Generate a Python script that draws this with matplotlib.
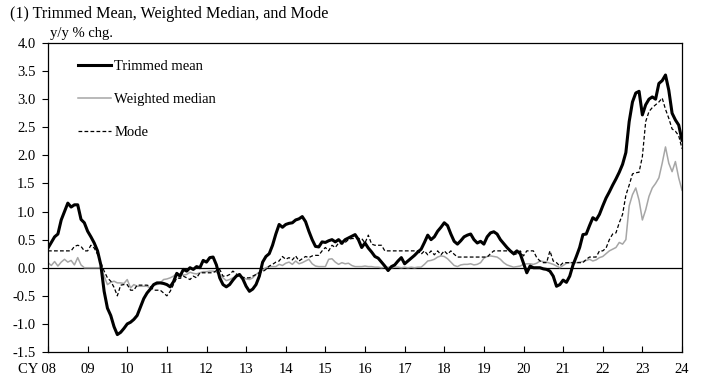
import matplotlib.pyplot as plt
from matplotlib.transforms import ScaledTranslation
import numpy as np

# monthly, Jan 2008 - Jan 2024, y/y % chg.
trimmed_mean = [
    0.35, 0.45, 0.55, 0.6, 0.85, 1.0, 1.15, 1.08, 1.12, 1.12, 0.86, 0.8,
    0.65, 0.55, 0.44, 0.3, 0.05, -0.42, -0.72, -0.85, -1.05, -1.19, -1.15, -1.08,
    -1.0, -0.97, -0.92, -0.85, -0.7, -0.55, -0.45, -0.38, -0.3, -0.27, -0.27, -0.28,
    -0.3, -0.34, -0.25, -0.1, -0.15, -0.03, -0.06, 0.0, -0.03, 0.02, 0.0, 0.13,
    0.1, 0.18, 0.19, 0.05, -0.18, -0.3, -0.34, -0.3, -0.22, -0.15, -0.12, -0.2,
    -0.33, -0.42, -0.38, -0.3, -0.15, 0.1, 0.2, 0.25, 0.4, 0.6, 0.77, 0.72,
    0.77, 0.79, 0.8, 0.85, 0.87, 0.91, 0.82, 0.65, 0.5, 0.38, 0.37, 0.46,
    0.45, 0.48, 0.5, 0.46, 0.5, 0.44, 0.5, 0.53, 0.56, 0.59, 0.5, 0.36,
    0.44, 0.35, 0.28, 0.2, 0.17, 0.1, 0.03, -0.05, 0.02, 0.05, 0.12, 0.18,
    0.07, 0.12, 0.17, 0.22, 0.28, 0.33, 0.45, 0.58, 0.5, 0.55, 0.65, 0.72,
    0.8, 0.75, 0.6, 0.47, 0.42, 0.48, 0.55, 0.58, 0.6, 0.5, 0.44, 0.47,
    0.42, 0.55, 0.62, 0.64, 0.6, 0.5, 0.43, 0.36, 0.3, 0.25, 0.3, 0.25,
    0.08, -0.09, 0.03, 0.0, 0.0, 0.0, -0.02, -0.03, -0.06, -0.15, -0.33, -0.3,
    -0.22, -0.26, -0.15, 0.05, 0.2, 0.36, 0.59, 0.6, 0.75, 0.89, 0.85, 0.95,
    1.1, 1.24, 1.35, 1.47, 1.58, 1.7, 1.84, 2.05, 2.6, 2.95, 3.11, 3.14,
    2.72, 2.9, 3.0, 3.04, 3.0, 3.28, 3.33, 3.43, 3.16, 2.75, 2.63, 2.54,
    2.27,
]
weighted_median = [
    0.09, 0.04, 0.11, 0.03, 0.1, 0.15, 0.1, 0.13, 0.05, 0.18, 0.05, 0.0,
    0.0, 0.0, 0.0, 0.0, 0.0, -0.15, -0.3, -0.26, -0.24, -0.27, -0.27, -0.28,
    -0.21, -0.36, -0.3, -0.33, -0.33, -0.33, -0.33, -0.36, -0.3, -0.3, -0.27, -0.21,
    -0.2, -0.18, -0.15, -0.1, -0.12, -0.13, -0.12, -0.08, -0.1, -0.11, -0.09, -0.07,
    -0.07, -0.06, -0.06, -0.08, -0.12, -0.18, -0.23, -0.21, -0.18, -0.15, -0.15, -0.18,
    -0.2, -0.21, -0.18, -0.12, -0.08, -0.04, 0.0, 0.02, 0.02, 0.02, 0.06, 0.04,
    0.08, 0.1, 0.06, 0.12, 0.07, 0.09, 0.12, 0.15, 0.07, 0.03, 0.02, 0.02,
    0.02, 0.15, 0.16, 0.1, 0.06, 0.09, 0.07, 0.08, 0.04, 0.02, 0.02, 0.02,
    0.03, 0.02, 0.02, 0.01, 0.01, 0.0, 0.01, 0.01, 0.0, 0.01, 0.01, 0.0,
    0.01, 0.0, 0.01, 0.0, 0.01, 0.01, 0.06, 0.12, 0.13, 0.15, 0.19, 0.21,
    0.2, 0.16, 0.1, 0.04, 0.02, 0.05, 0.06, 0.06, 0.07, 0.05, 0.06, 0.09,
    0.17, 0.2, 0.21, 0.2, 0.19, 0.15, 0.09, 0.05, 0.03, 0.01, 0.02, 0.03,
    0.06, 0.07, 0.07, 0.06, 0.08, 0.12, 0.11, 0.1, 0.08, 0.06, 0.03, 0.0,
    0.04, 0.08, 0.09, 0.09, 0.09, 0.1, 0.11, 0.13, 0.15, 0.12, 0.14, 0.18,
    0.2, 0.25, 0.3, 0.33, 0.36, 0.45, 0.42, 0.5, 1.1, 1.3, 1.42, 1.2,
    0.85, 1.03, 1.27, 1.42, 1.5, 1.6, 1.86, 2.15, 1.86, 1.71, 1.89, 1.6,
    1.38,
]
mode = [
    0.3, 0.3, 0.3, 0.3, 0.3, 0.3, 0.3, 0.3, 0.38, 0.4, 0.38, 0.3,
    0.3, 0.4, 0.35, 0.24, 0.09, -0.06, -0.18, -0.24, -0.35, -0.5, -0.31, -0.3,
    -0.3, -0.4, -0.4, -0.31, -0.31, -0.31, -0.31, -0.33, -0.4, -0.4, -0.4, -0.45,
    -0.5, -0.42, -0.3, -0.18, -0.19, -0.15, -0.18, -0.21, -0.15, -0.18, -0.09, -0.09,
    -0.09, -0.09, -0.09, -0.05, -0.03, -0.15, -0.15, -0.12, -0.06, -0.11, -0.15, -0.17,
    -0.18, -0.18, -0.15, -0.12, -0.09, -0.07, -0.03, 0.03, 0.06, 0.1, 0.12, 0.2,
    0.15, 0.18, 0.14, 0.21, 0.12, 0.16, 0.2, 0.18, 0.21, 0.22, 0.22, 0.3,
    0.36, 0.3, 0.4, 0.36, 0.44, 0.42, 0.45, 0.5, 0.52, 0.52, 0.52, 0.52,
    0.44, 0.58, 0.42, 0.4, 0.4, 0.4, 0.3, 0.3, 0.3, 0.3, 0.3, 0.3,
    0.3, 0.3, 0.3, 0.3, 0.3, 0.24, 0.3, 0.23, 0.3, 0.23, 0.3, 0.23,
    0.3, 0.24, 0.3, 0.24, 0.19, 0.19, 0.19, 0.19, 0.19, 0.19, 0.19, 0.19,
    0.19, 0.19, 0.25, 0.3, 0.3, 0.3, 0.3, 0.3, 0.3, 0.23, 0.25, 0.3,
    0.21, 0.3, 0.3, 0.3, 0.18, 0.12, 0.09, 0.09, 0.3, 0.12, 0.09, 0.03,
    0.09, 0.09, 0.09, 0.09, 0.09, 0.09, 0.09, 0.15, 0.19, 0.19, 0.19, 0.3,
    0.3, 0.35, 0.5, 0.6, 0.62, 0.8, 0.95, 1.29, 1.47, 1.67, 1.69, 1.7,
    1.98, 2.6, 2.78, 2.85, 2.9, 2.95, 3.02, 2.82, 2.66, 2.47, 2.43, 2.35,
    2.12,
]
years = list(range(2008, 2025))
year_labels = ['CY 08', '09', '10', '11', '12', '13', '14', '15', '16',
               '17', '18', '19', '20', '21', '22', '23', '24']

plt.rcParams['font.family'] = ['Liberation Serif', 'DejaVu Serif']
plt.rcParams['font.size'] = 10.5

t = 2008 + np.arange(len(trimmed_mean)) / 12.0

fig = plt.figure(figsize=(7.07, 3.78), dpi=100)
ax = fig.add_axes([48/707, 1-352/378, 634/707, 309/378])

ax.axhline(0, color='black', lw=0.9, zorder=1)
ax.plot(t, trimmed_mean, color='black', lw=2.2, label='Trimmed mean', zorder=4)
ax.plot(t, weighted_median, color='#a6a6a6', lw=1.1, label='Weighted median', zorder=2)
ax.plot(t, mode, color='black', lw=0.9, ls=(0, (3, 1.8)), label='Mode', zorder=3)

ax.set_xlim(2008, 2024)
ax.set_ylim(-1.5, 4.0)
ax.set_yticks(np.arange(-1.5, 4.01, 0.5))
ax.set_yticklabels(['%.1f' % v for v in np.arange(-1.5, 4.01, 0.5)])
ax.set_xticks(years)
ax.set_xticklabels(year_labels)
ax.tick_params(axis='y', direction='out', length=4, width=0.8, pad=5)
ax.tick_params(axis='x', direction='in', length=4, width=0.8, pad=8)
for s in ax.spines.values():
    s.set_linewidth(0.9)

# keep "08" centred on its tick, "CY" hangs to the left
first = ax.get_xticklabels()[0]
first.set_horizontalalignment('right')
first.set_transform(first.get_transform() + ScaledTranslation(0.08, 0, fig.dpi_scale_trans))

fig.text(10/707, 1-6/378, '(1) Trimmed Mean, Weighted Median, and Mode',
         ha='left', va='top', fontsize=11.6)
fig.text(50/707, 1-37/378, 'y/y % chg.', ha='left', va='baseline', fontsize=10.5)

ax.legend(loc='upper left', bbox_to_anchor=(0.047, 0.945), frameon=False,
          borderpad=0, borderaxespad=0, handlelength=2.3, handletextpad=0.2,
          labelspacing=1.35, fontsize=10.5)

plt.savefig('out.png', dpi=100)
